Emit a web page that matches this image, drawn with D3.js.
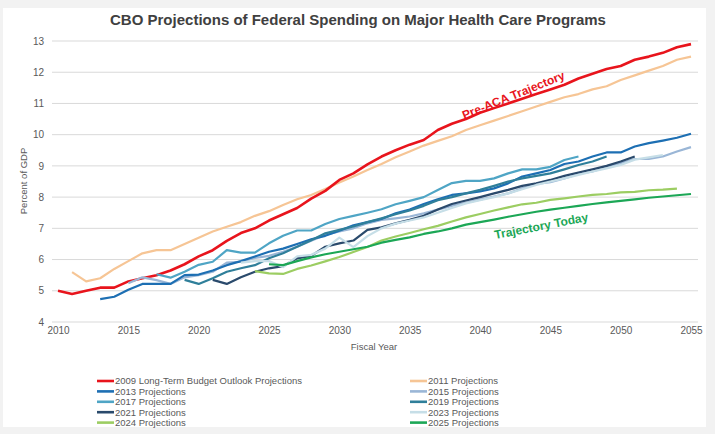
<!DOCTYPE html>
<html><head><meta charset="utf-8">
<script src="https://cdn.jsdelivr.net/npm/d3@7"></script>
<style>
html,body{margin:0;padding:0;background:#f2f2f2;}
svg{display:block;font-family:"Liberation Sans",Arial,sans-serif;}
</style></head>
<body>
<svg id="c" width="715" height="434"></svg>
<script>
const years = d3.range(2010, 2056);
const xTicks = [2010,2015,2020,2025,2030,2035,2040,2045,2050,2055];
const yTicks = [4,5,6,7,8,9,10,11,12,13];

const names = ["2009 Long-Term Budget Outlook Projections","2011 Projections","2013 Projections","2015 Projections",
  "2017 Projections","2019 Projections","2021 Projections","2023 Projections","2024 Projections","2025 Projections"];
const startYears = [2010,2011,2013,2015,2017,2019,2021,2023,2024,2025];
const colors = ["#e8141c","#f6c595","#1d6fb3","#9ab6d6","#4fa5c5","#2f7f9a","#2a4a6c","#c6dee7","#9ccd62","#1ca756"];

const v2009 = [5.0,4.9,5.0,5.1,5.1,5.3,5.4,5.5,5.65,5.85,6.1,6.3,6.6,6.85,7.0,7.25,7.45,7.65,7.95,8.2,
  8.55,8.76,9.05,9.3,9.5,9.68,9.83,10.15,10.35,10.5,10.7,10.85,11.0,11.15,11.3,11.45,11.6,11.8,11.95,12.1,
  12.2,12.4,12.5,12.62,12.8,12.9];
const v2011 = [5.6,5.3,5.4,5.7,5.95,6.2,6.3,6.3,6.5,6.7,6.9,7.05,7.2,7.4,7.55,7.75,7.93,8.07,8.26,8.47,
  8.66,8.87,9.06,9.28,9.46,9.65,9.8,9.95,10.15,10.3,10.45,10.6,10.75,10.9,11.05,11.2,11.3,11.45,11.55,11.75,
  11.9,12.05,12.2,12.4,12.5];
const v2013 = [4.73,4.81,5.03,5.22,5.22,5.22,5.5,5.52,5.65,5.82,5.95,6.1,6.25,6.35,6.5,6.65,6.76,6.92,7.1,7.2,
  7.3,7.48,7.6,7.78,7.93,8.07,8.12,8.18,8.28,8.44,8.66,8.76,8.87,9.06,9.14,9.3,9.43,9.43,9.62,9.73,
  9.81,9.9,10.03];
const v2015 = [5.24,5.43,5.34,5.22,5.43,5.5,5.61,5.9,5.93,6.05,6.12,6.25,6.41,6.6,6.79,6.9,7.0,7.16,7.27,7.32,
  7.38,7.48,7.6,7.72,7.82,7.92,8.02,8.12,8.28,8.42,8.48,8.6,8.74,8.82,8.96,9.09,9.22,9.22,9.3,9.46,9.6];
const v2017 = [5.53,5.42,5.61,5.83,5.93,6.3,6.22,6.22,6.52,6.76,6.93,6.93,7.14,7.3,7.4,7.5,7.61,7.77,7.88,8.0,
  8.23,8.45,8.52,8.52,8.6,8.76,8.89,8.89,8.97,9.19,9.3];
const v2019 = [5.35,5.22,5.4,5.61,5.72,5.82,6.04,6.2,6.41,6.62,6.84,6.95,7.06,7.2,7.32,7.45,7.57,7.72,7.9,8.0,
  8.12,8.23,8.36,8.5,8.6,8.68,8.76,8.89,9.03,9.14,9.3];
const v2021 = [5.35,5.22,5.43,5.61,5.72,5.79,6.04,6.12,6.41,6.52,6.61,6.95,7.03,7.16,7.27,7.4,7.6,7.78,7.89,8.0,
  8.12,8.23,8.36,8.44,8.55,8.68,8.79,8.89,9.0,9.14,9.3];
const v2023 = [5.9,5.95,5.95,5.76,6.1,6.15,6.35,6.7,6.4,6.75,7.0,7.15,7.25,7.35,7.5,7.65,7.8,7.9,8.0,8.12,
  8.25,8.39,8.5,8.6,8.71,8.82,8.92,9.03,9.2,9.27,9.35];
const v2024 = [5.63,5.56,5.54,5.7,5.81,5.94,6.08,6.24,6.4,6.61,6.74,6.85,6.97,7.08,7.22,7.35,7.46,7.57,7.67,7.77,
  7.82,7.91,7.96,8.02,8.07,8.1,8.15,8.17,8.22,8.24,8.27];
const v2025 = [5.85,5.82,5.95,6.07,6.17,6.25,6.33,6.41,6.54,6.63,6.71,6.82,6.9,7.0,7.12,7.2,7.28,7.37,7.45,7.53,
  7.6,7.66,7.72,7.78,7.83,7.88,7.93,7.98,8.02,8.06,8.1];
const values = [v2009,v2011,v2013,v2015,v2017,v2019,v2021,v2023,v2024,v2025];

const svg = d3.select("#c");
svg.append("rect").attr("x",3).attr("y",8).attr("width",703).attr("height",419).attr("fill","#ffffff");

const x = d3.scaleLinear().domain([2010,2055]).range([58,691]);
const y = d3.scaleLinear().domain([4,13]).range([322,41]);

svg.append("text").attr("x",358).attr("y",25).attr("text-anchor","middle")
  .attr("font-size",15).attr("font-weight","bold").attr("fill","#404040")
  .text("CBO Projections of Federal Spending on Major Health Care Programs");

// gridlines
svg.append("g").selectAll("line").data(yTicks).join("line")
  .attr("x1",52).attr("x2",698).attr("y1",d=>y(d)).attr("y2",d=>y(d))
  .attr("stroke","#d9d9d9").attr("stroke-width",1);

const yAxis = d3.axisLeft(y).tickValues(yTicks).tickSize(0).tickPadding(0).tickFormat(d3.format("d"));
const gy = svg.append("g").attr("transform","translate(44,0)").call(yAxis);
gy.select(".domain").remove();
gy.selectAll("text").attr("font-size",10).attr("fill","#595959").attr("font-family","Liberation Sans, Arial, sans-serif");

const xAxis = d3.axisBottom(x).tickValues(xTicks).tickSize(0).tickPadding(0).tickFormat(d3.format("d"));
const gx = svg.append("g").attr("transform","translate(0,327)").call(xAxis);
gx.select(".domain").remove();
gx.selectAll("text").attr("font-size",10).attr("fill","#595959").attr("font-family","Liberation Sans, Arial, sans-serif");

svg.append("text").attr("transform","translate(27,181) rotate(-90)").attr("text-anchor","middle")
  .attr("font-size",9.5).attr("fill","#595959").text("Percent of GDP");
svg.append("text").attr("x",374).attr("y",350).attr("text-anchor","middle")
  .attr("font-size",9.5).attr("fill","#595959").text("Fiscal Year");

const line = d3.line().x(d=>x(d[0])).y(d=>y(d[1]));
const drawOrder = [1,0,3,2,4,5,6,7,8,9];
svg.append("g").selectAll("path").data(drawOrder).join("path")
  .attr("d", i => line(values[i].map((v,k)=>[startYears[i]+k, v])))
  .attr("fill","none").attr("stroke", i=>colors[i])
  .attr("stroke-width", i => i===0 ? 2.6 : 2.2).attr("stroke-linejoin","round");

svg.append("text").attr("transform","translate(515,99) rotate(-22)").attr("text-anchor","middle")
  .attr("font-size",12).attr("font-weight","bold").attr("fill","#e8141c").text("Pre-ACA Trajectory");
svg.append("text").attr("transform","translate(542,230) rotate(-11)").attr("text-anchor","middle")
  .attr("font-size",12).attr("font-weight","bold").attr("fill","#1ca756").text("Trajectory Today");

// legend
const leg = svg.append("g");
const items = leg.selectAll("g").data(d3.range(10)).join("g")
  .attr("transform", i => `translate(${i%2===0 ? 97 : 410},${381 + Math.floor(i/2)*10.4})`);
items.append("line").attr("x1",0).attr("x2",17).attr("y1",0).attr("y2",0)
  .attr("stroke", i=>colors[i]).attr("stroke-width",2.6);
items.append("text").attr("x",18).attr("y",0).attr("dy","0.35em")
  .attr("font-size",9.5).attr("fill","#595959").text(i=>names[i]);
</script>
</body></html>
